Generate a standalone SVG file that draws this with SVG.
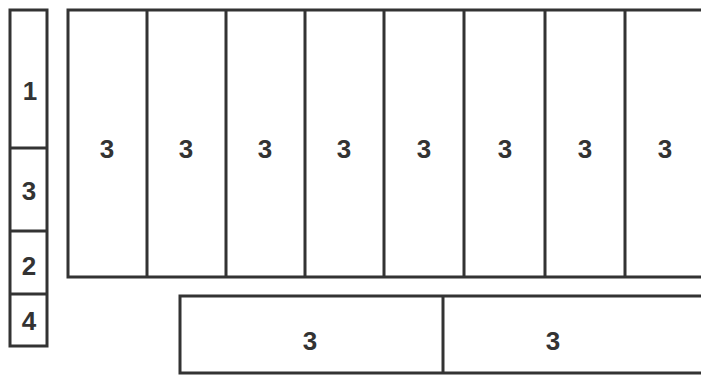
<svg xmlns="http://www.w3.org/2000/svg" width="701" height="376" viewBox="0 0 701 376">
<style>
.b{fill:#fff;stroke:#333;stroke-width:3}
.l{stroke:#333;stroke-width:3;fill:none}
text{font-family:"Liberation Sans",Arial,sans-serif;font-size:26px;font-weight:bold;fill:#333;text-anchor:middle}
</style>
<rect width="701" height="376" fill="#fff"/>
<g id="left-column">
<rect class="b" x="10" y="10" width="37" height="336"/>
<line class="l" x1="10" y1="148" x2="47" y2="148"/>
<line class="l" x1="10" y1="231" x2="47" y2="231"/>
<line class="l" x1="10" y1="294" x2="47" y2="294"/>
</g>
<g id="left-labels">
<text x="30" y="100">1</text>
<text x="29" y="200">3</text>
<text x="29" y="275">2</text>
<text x="29" y="330">4</text>
</g>
<g id="main-block">
<path class="l" d="M703 10 H68 V277 H703"/>
<line class="l" x1="147" y1="10" x2="147" y2="277"/>
<line class="l" x1="226" y1="10" x2="226" y2="277"/>
<line class="l" x1="305" y1="10" x2="305" y2="277"/>
<line class="l" x1="384" y1="10" x2="384" y2="277"/>
<line class="l" x1="464" y1="10" x2="464" y2="277"/>
<line class="l" x1="545" y1="10" x2="545" y2="277"/>
<line class="l" x1="625" y1="10" x2="625" y2="277"/>
</g>
<g id="main-labels">
<text x="107" y="158">3</text>
<text x="186" y="158">3</text>
<text x="265" y="158">3</text>
<text x="344" y="158">3</text>
<text x="424" y="158">3</text>
<text x="505" y="158">3</text>
<text x="585" y="158">3</text>
<text x="665" y="158">3</text>
</g>
<g id="bottom-block">
<path class="l" d="M703 296 H180 V373 H703"/>
<line class="l" x1="443" y1="296" x2="443" y2="373"/>
</g>
<g id="bottom-labels">
<text x="310" y="350">3</text>
<text x="553" y="350">3</text>
</g>
</svg>
